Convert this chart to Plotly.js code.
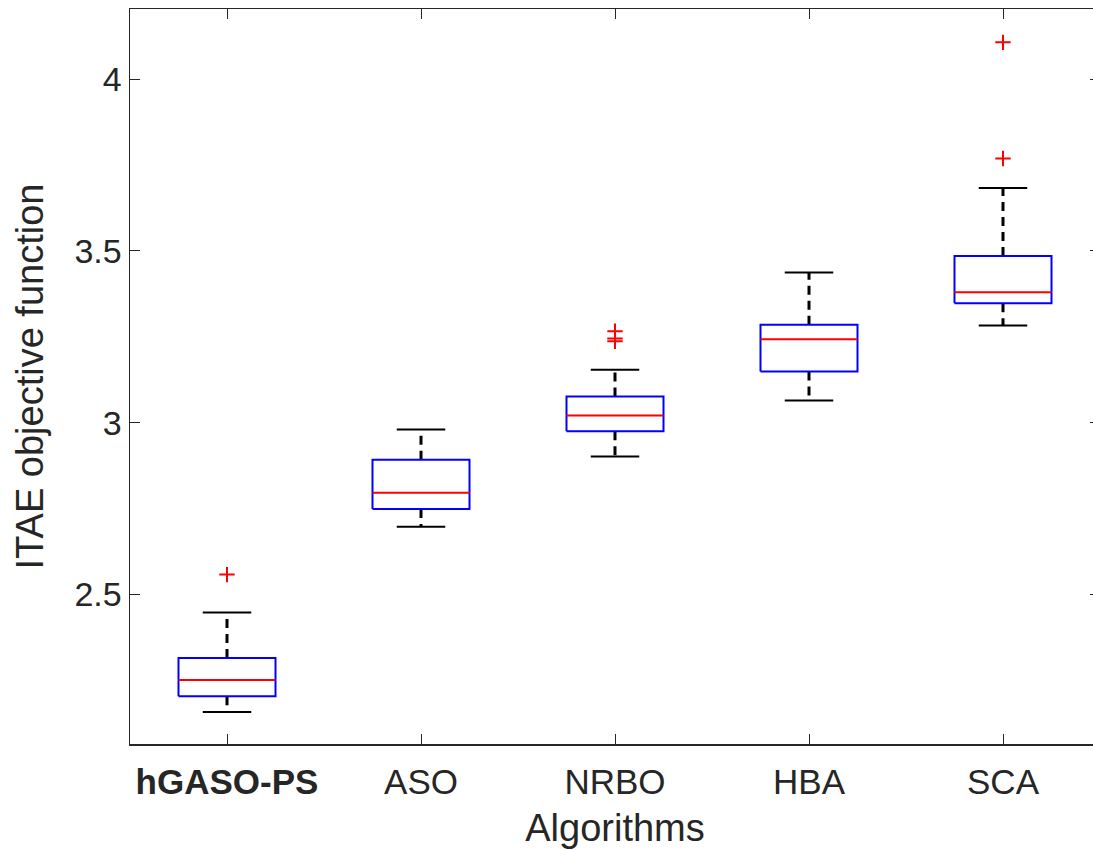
<!DOCTYPE html>
<html>
<head>
<meta charset="utf-8">
<script src="https://cdn.plot.ly/plotly-3.0.1.min.js"></script>
<style>
html,body{margin:0;padding:0;overflow:hidden;background:#fff;}
#chart{width:1100px;height:850px;}
</style>
</head>
<body>
<div id="chart"></div>
<script>
// ---- data ----
var categories = ['hGASO-PS', 'ASO', 'NRBO', 'HBA', 'SCA'];
var tickLabels = ['<b>hGASO-PS</b>', 'ASO', 'NRBO', 'HBA', 'SCA'];
var lowerWhisker = [2.158, 2.697, 2.902, 3.065, 3.283];
var q1Values     = [2.204, 2.749, 2.975, 3.149, 3.348];
var medianValues = [2.251, 2.796, 3.021, 3.243, 3.380];
var q3Values     = [2.315, 2.892, 3.076, 3.285, 3.485];
var upperWhisker = [2.448, 2.980, 3.154, 3.437, 3.683];
var outlierGroup = [0, 2, 2, 2, 4, 4];
var outlierValues = [2.558, 3.266, 3.245, 3.237, 3.769, 4.107];

// ---- build marks ----
var boxHalf = 0.25, capHalf = 0.125;
var boxX = [], boxY = [], medX = [], medY = [], whiskX = [], whiskY = [], capX = [], capY = [];
for (var i = 0; i < categories.length; i++) {
  var c = i + 1;
  boxX.push(c - boxHalf, c + boxHalf, c + boxHalf, c - boxHalf, c - boxHalf, null);
  boxY.push(q1Values[i], q1Values[i], q3Values[i], q3Values[i], q1Values[i], null);
  medX.push(c - boxHalf, c + boxHalf, null);
  medY.push(medianValues[i], medianValues[i], null);
  whiskX.push(c, c, null, c, c, null);
  whiskY.push(q3Values[i], upperWhisker[i], null, q1Values[i], lowerWhisker[i], null);
  capX.push(c - capHalf, c + capHalf, null, c - capHalf, c + capHalf, null);
  capY.push(upperWhisker[i], upperWhisker[i], null, lowerWhisker[i], lowerWhisker[i], null);
}
var outX = outlierGroup.map(function (g) { return g + 1; });

var traces = [
  {x: whiskX, y: whiskY, mode: 'lines', line: {color: '#000000', width: 3, dash: '9px,6px'}, hoverinfo: 'skip'},
  {x: capX, y: capY, mode: 'lines', line: {color: '#000000', width: 2}, hoverinfo: 'skip'},
  {x: boxX, y: boxY, mode: 'lines', line: {color: '#0000ff', width: 2}, hoverinfo: 'skip'},
  {x: medX, y: medY, mode: 'lines', line: {color: '#ff0000', width: 2}, hoverinfo: 'skip'},
  {x: outX, y: outlierValues, mode: 'markers',
   marker: {symbol: 'cross-thin-open', size: 11, color: '#ff0000', line: {color: '#ff0000', width: 2}}}
];
traces.forEach(function (t) { t.type = 'scatter'; t.showlegend = false; });

var axisColor = '#262626';
var layout = {
  width: 1100, height: 850,
  margin: {l: 130, r: 0, t: 9, b: 106},
  paper_bgcolor: '#ffffff', plot_bgcolor: '#ffffff',
  font: {family: 'Liberation Sans, Arial, sans-serif', color: axisColor},
  xaxis: {
    range: [0.5, 5.5], tickvals: [1, 2, 3, 4, 5], ticktext: tickLabels,
    showgrid: false, zeroline: false, showline: true, mirror: 'ticks',
    linecolor: axisColor, linewidth: 1.5, ticks: 'inside', ticklen: 10, tickwidth: 1, tickcolor: axisColor,
    ticklabelstandoff: 6,
    tickfont: {size: 35, color: axisColor},
    title: {text: 'Algorithms', font: {size: 38, color: axisColor}, standoff: 15}
  },
  yaxis: {
    range: [2.065, 4.204], tickvals: [2.5, 3, 3.5, 4], ticktext: ['2.5', '3', '3.5', '4'],
    showgrid: false, zeroline: false, showline: true, mirror: 'ticks',
    linecolor: axisColor, linewidth: 1.5, ticks: 'inside', ticklen: 10, tickwidth: 1, tickcolor: axisColor,
    tickfont: {size: 34, color: axisColor},
    title: {text: 'ITAE objective function', font: {size: 38, color: axisColor}, standoff: 19}
  }
};

Plotly.newPlot('chart', traces, layout, {displayModeBar: false, staticPlot: true});
</script>
</body>
</html>
